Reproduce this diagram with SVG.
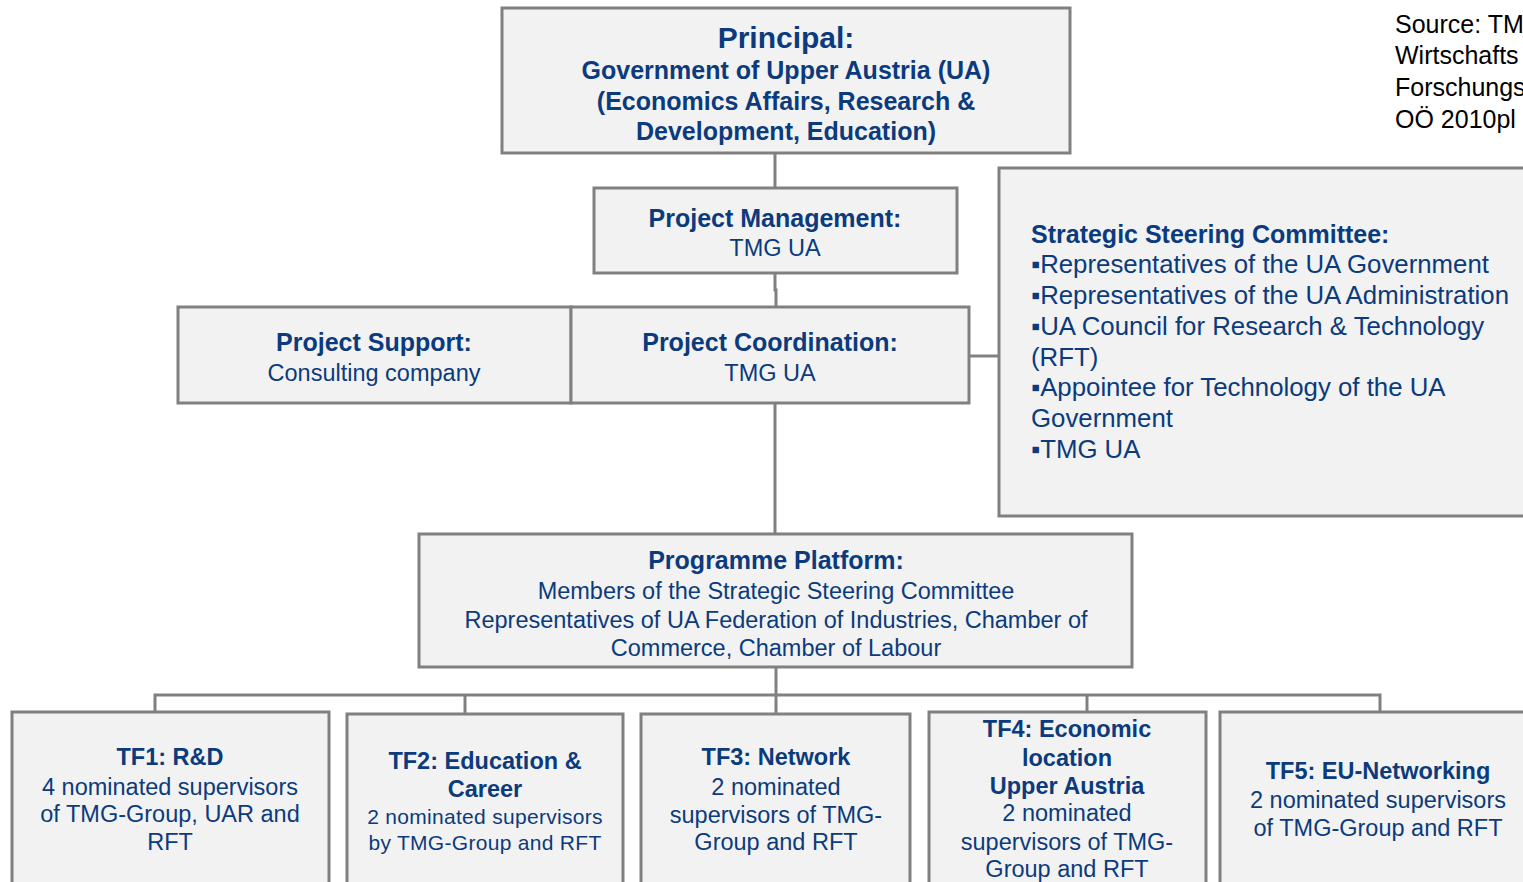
<svg xmlns="http://www.w3.org/2000/svg" width="1523" height="882" viewBox="0 0 1523 882">
<style>
.box{fill:#f2f2f2;stroke:#808080;stroke-width:3}
.con{fill:none;stroke:#808080;stroke-width:3}
text{font-family:"Liberation Sans",Arial,sans-serif;fill:#0b3b7c}
.c{text-anchor:middle}
.b{font-weight:bold}
.t{font-size:30px;font-weight:bold}
.h{font-size:25px;font-weight:bold}
.n{font-size:23.5px}
.tb{font-size:23.5px;font-weight:bold}
.s{font-size:25.8px}
.sm{font-size:21px;letter-spacing:0.3px}
.src{font-size:25px;fill:#000}
</style>
<rect width="1523" height="882" fill="#ffffff"/>
<g id="connectors">
<path class="con" d="M775 153V188"/>
<path class="con" d="M775 273V290H776V307"/>
<path class="con" d="M775 403V534"/>
<path class="con" d="M969 356H999"/>
<path class="con" d="M776 667V695"/>
<path class="con" d="M155 712V695H1380V712"/>
<path class="con" d="M465 695V714"/>
<path class="con" d="M776 695V714"/>
<path class="con" d="M1087 695V712"/>
</g>
<g id="principal">
<rect class="box" x="502" y="8" width="568" height="145"/>
<text class="c t" x="786" y="48">Principal:</text>
<text class="c h" x="786" y="79">Government of Upper Austria (UA)</text>
<text class="c h" x="786" y="110">(Economics Affairs, Research &amp;</text>
<text class="c h" x="786" y="140">Development, Education)</text>
</g>
<g id="project-management">
<rect class="box" x="594" y="188" width="363" height="85"/>
<text class="c h" x="775" y="227">Project Management:</text>
<text class="c n" x="775" y="256">TMG UA</text>
</g>
<g id="project-support">
<rect class="box" x="178" y="307" width="393" height="96"/>
<text class="c h" x="374" y="351">Project Support:</text>
<text class="c n" x="374" y="381">Consulting company</text>
</g>
<g id="project-coordination">
<rect class="box" x="571" y="307" width="398" height="96"/>
<text class="c h" x="770" y="351">Project Coordination:</text>
<text class="c n" x="770" y="381">TMG UA</text>
</g>
<g id="steering-committee">
<rect class="box" x="999" y="168" width="540" height="348"/>
<text class="h" x="1031" y="243">Strategic Steering Committee:</text>
<text class="s" x="1031" y="273">▪Representatives of the UA Government</text>
<text class="s" x="1031" y="304">▪Representatives of the UA Administration</text>
<text class="s" x="1031" y="335">▪UA Council for Research &amp; Technology</text>
<text class="s" x="1031" y="366">(RFT)</text>
<text class="s" x="1031" y="396">▪Appointee for Technology of the UA</text>
<text class="s" x="1031" y="427">Government</text>
<text class="s" x="1031" y="458">▪TMG UA</text>
</g>
<g id="source">
<text class="src" x="1395" y="33">Source: TM</text>
<text class="src" x="1395" y="64">Wirtschafts</text>
<text class="src" x="1395" y="96">Forschungs</text>
<text class="src" x="1395" y="128">OÖ 2010pl</text>
</g>
<g id="programme-platform">
<rect class="box" x="419" y="534" width="713" height="133"/>
<text class="c h" x="776" y="569">Programme Platform:</text>
<text class="c n" x="776" y="599">Members of the Strategic Steering Committee</text>
<text class="c n" x="776" y="628">Representatives of UA Federation of Industries, Chamber of</text>
<text class="c n" x="776" y="656">Commerce, Chamber of Labour</text>
</g>
<g id="tf1">
<rect class="box" x="12" y="712" width="317" height="180"/>
<text class="c tb" x="170" y="765">TF1: R&amp;D</text>
<text class="c n" x="170" y="795">4 nominated supervisors</text>
<text class="c n" x="170" y="822">of TMG-Group, UAR and</text>
<text class="c n" x="170" y="850">RFT</text>
</g>
<g id="tf2">
<rect class="box" x="347" y="714" width="276" height="178"/>
<text class="c tb" x="485" y="769">TF2: Education &amp;</text>
<text class="c tb" x="485" y="797">Career</text>
<text class="c sm" x="485" y="824">2 nominated supervisors</text>
<text class="c sm" x="485" y="850">by TMG-Group and RFT</text>
</g>
<g id="tf3">
<rect class="box" x="641" y="714" width="269" height="178"/>
<text class="c tb" x="776" y="765">TF3: Network</text>
<text class="c n" x="776" y="795">2 nominated</text>
<text class="c n" x="776" y="823">supervisors of TMG-</text>
<text class="c n" x="776" y="850">Group and RFT</text>
</g>
<g id="tf4">
<rect class="box" x="929" y="712" width="277" height="180"/>
<text class="c tb" x="1067" y="737">TF4: Economic</text>
<text class="c tb" x="1067" y="766">location</text>
<text class="c tb" x="1067" y="794">Upper Austria</text>
<text class="c n" x="1067" y="821">2 nominated</text>
<text class="c n" x="1067" y="850">supervisors of TMG-</text>
<text class="c n" x="1067" y="877">Group and RFT</text>
</g>
<g id="tf5">
<rect class="box" x="1220" y="712" width="320" height="180"/>
<text class="c tb" x="1378" y="779">TF5: EU-Networking</text>
<text class="c n" x="1378" y="808">2 nominated supervisors</text>
<text class="c n" x="1378" y="836">of TMG-Group and RFT</text>
</g>
</svg>
